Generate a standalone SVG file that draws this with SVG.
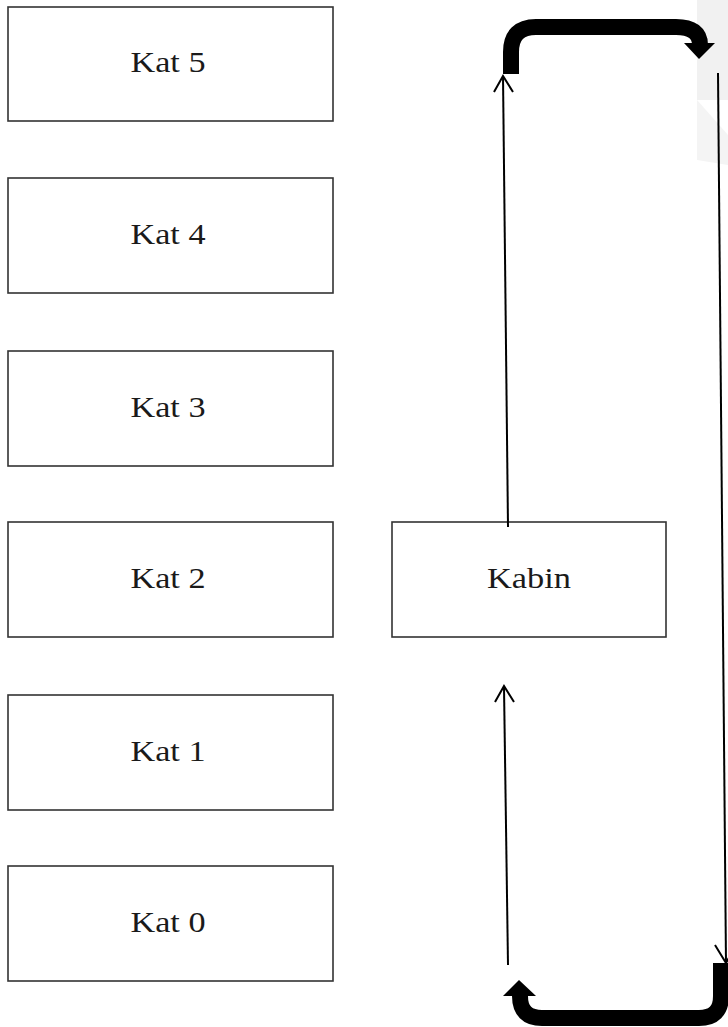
<svg xmlns="http://www.w3.org/2000/svg" width="728" height="1027" viewBox="0 0 728 1027">
<style>
.box{fill:#fff;stroke:#333;stroke-width:1.6}
.lbl{font-family:"Liberation Serif","Times New Roman",serif;font-size:30px;fill:#1a1a1a;text-anchor:middle}
.thin{stroke:#000;stroke-width:2;fill:none}
.thick{stroke:#000;stroke-width:16;fill:none}
</style>
<rect x="0" y="0" width="728" height="1027" fill="#fff"/>
<g id="watermark">
<polygon points="697,0 728,0 728,100 697,100" fill="#f1f1f1"/>
<polygon points="697,100 728,135 728,165 697,160" fill="#f4f4f4"/>
</g>
<g id="kat5"><rect class="box" x="8" y="7" width="325" height="114"/><text class="lbl" x="168" y="72" textLength="75" lengthAdjust="spacingAndGlyphs">Kat 5</text></g>
<g id="kat4"><rect class="box" x="8" y="178" width="325" height="115"/><text class="lbl" x="168" y="244" textLength="75" lengthAdjust="spacingAndGlyphs">Kat 4</text></g>
<g id="kat3"><rect class="box" x="8" y="351" width="325" height="115"/><text class="lbl" x="168" y="417" textLength="75" lengthAdjust="spacingAndGlyphs">Kat 3</text></g>
<g id="kat2"><rect class="box" x="8" y="522" width="325" height="115"/><text class="lbl" x="168" y="588" textLength="75" lengthAdjust="spacingAndGlyphs">Kat 2</text></g>
<g id="kat1"><rect class="box" x="8" y="695" width="325" height="115"/><text class="lbl" x="168" y="761" textLength="75" lengthAdjust="spacingAndGlyphs">Kat 1</text></g>
<g id="kat0"><rect class="box" x="8" y="866" width="325" height="115"/><text class="lbl" x="168" y="932" textLength="75" lengthAdjust="spacingAndGlyphs">Kat 0</text></g>
<g id="kabin"><rect class="box" x="392" y="522" width="274" height="115"/><text class="lbl" x="529" y="588" textLength="84" lengthAdjust="spacingAndGlyphs">Kabin</text></g>
<g id="connectors">
<line class="thin" x1="508" y1="527" x2="503" y2="76"/>
<polyline class="thin" points="494,92 503,76 513,92"/>
<line class="thin" x1="508" y1="965" x2="504" y2="687"/>
<polyline class="thin" points="495,702 504,686 514,702"/>
<line class="thin" x1="718" y1="73" x2="726" y2="963"/>
<polyline class="thin" points="715,945 726,963 736,945"/>
<path class="thick" d="M511,74 V52 Q511,27 536,27 H676 Q700,27 700,45"/>
<polygon points="684,43 715,43 699,59" fill="#000"/>
<path class="thick" d="M721,963 V996 Q721,1018 699,1018 H542 Q520,1018 520,996 V995"/>
<polygon points="503,996 536,996 519,980" fill="#000"/>
</g>
</svg>
